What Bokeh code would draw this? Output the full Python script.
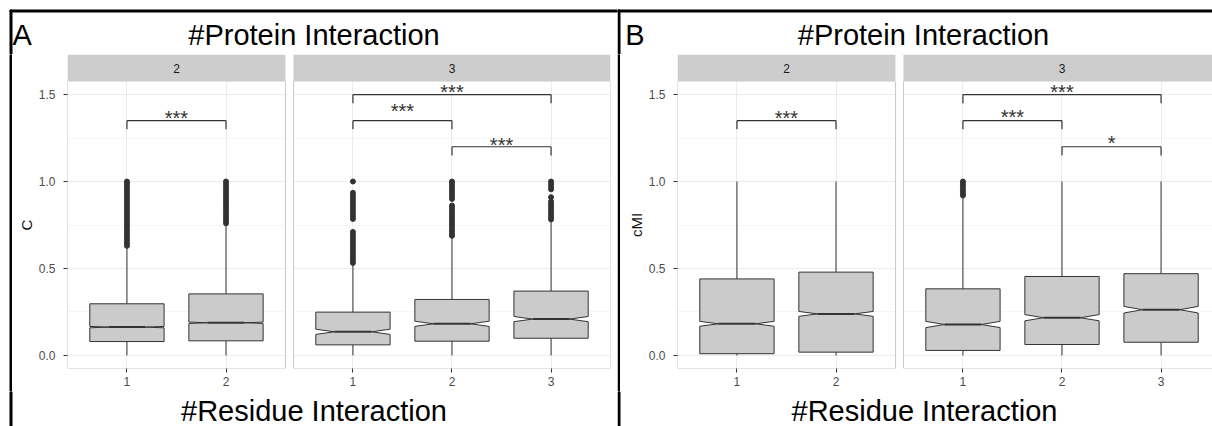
from bokeh.plotting import figure
from bokeh.models import Range1d, FixedTicker, NumeralTickFormatter
from bokeh.layouts import row, column
from bokeh.embed import file_html
from bokeh.resources import INLINE
from bokeh.core.properties import value

FONT = "Liberation Sans"

# ---------------- data ----------------
facet_labels = ["2", "3"]                       # #Protein Interaction
residue_ticks = [["1", "2"], ["1", "2", "3"]]    # #Residue Interaction
y_ticks = [0.0, 0.5, 1.0, 1.5]
y_minor = [0.25, 0.75, 1.25]

# Panel A : C
A2_q1 = [0.080, 0.084]
A2_med = [0.163, 0.188]
A2_q3 = [0.297, 0.354]
A2_lo = [0.0, 0.0]
A2_hi = [0.622, 0.757]
A2_notch = [0.004, 0.004]
A2_out = [
    [0.63, 0.645, 0.66, 0.675, 0.69, 0.705, 0.72, 0.735, 0.75, 0.765, 0.78, 0.795, 0.81,
     0.825, 0.84, 0.855, 0.87, 0.885, 0.90, 0.915, 0.93, 0.945, 0.96, 0.975, 0.99, 1.0],
    [0.76, 0.775, 0.79, 0.805, 0.82, 0.835, 0.85, 0.865, 0.88, 0.895, 0.91, 0.925, 0.94,
     0.955, 0.97, 0.985, 1.0],
]
A3_q1 = [0.061, 0.082, 0.099]
A3_med = [0.136, 0.182, 0.209]
A3_q3 = [0.249, 0.322, 0.370]
A3_lo = [0.0, 0.0, 0.0]
A3_hi = [0.527, 0.683, 0.777]
A3_notch = [0.015, 0.015, 0.015]
A3_out = [
    [1.0, 0.935, 0.92, 0.905, 0.89, 0.875, 0.86, 0.845, 0.83, 0.815, 0.80, 0.785,
     0.71, 0.695, 0.68, 0.665, 0.65, 0.635, 0.62, 0.605, 0.59, 0.575, 0.56, 0.545, 0.532],
    [1.0, 0.99, 0.975, 0.96, 0.945, 0.93, 0.915, 0.90,
     0.862, 0.85, 0.835, 0.82, 0.805, 0.79, 0.775, 0.76, 0.745, 0.73, 0.715, 0.70, 0.688],
    [1.0, 0.985, 0.97, 0.955, 0.91, 0.885, 0.87, 0.855, 0.84, 0.825, 0.81, 0.795, 0.782],
]

# Panel B : cMI
B2_q1 = [0.010, 0.019]
B2_med = [0.182, 0.239]
B2_q3 = [0.440, 0.479]
B2_lo = [0.0, 0.0]
B2_hi = [1.0, 1.0]
B2_notch = [0.014, 0.014]
B2_out = [[], []]
B3_q1 = [0.029, 0.063, 0.076]
B3_med = [0.178, 0.217, 0.263]
B3_q3 = [0.383, 0.454, 0.470]
B3_lo = [0.0, 0.0, 0.0]
B3_hi = [0.914, 1.0, 1.0]
B3_notch = [0.018, 0.018, 0.019]
B3_out = [[1.0, 0.99, 0.975, 0.96, 0.945, 0.93, 0.92], [], []]

# significance brackets (facet, from, to, bracket height, label, label height)
A_sig_facet = [0, 1, 1, 1]
A_sig_from = [1, 1, 1, 2]
A_sig_to = [2, 3, 2, 3]
A_sig_y = [1.35, 1.5, 1.35, 1.2]
A_sig_text = ["***", "***", "***", "***"]
A_sig_text_y = [1.367, 1.515, 1.403, 1.212]

B_sig_facet = [0, 1, 1, 1]
B_sig_from = [1, 1, 1, 2]
B_sig_to = [2, 3, 2, 3]
B_sig_y = [1.35, 1.5, 1.35, 1.2]
B_sig_text = ["***", "***", "***", "*"]
B_sig_text_y = [1.367, 1.516, 1.369, 1.219]

TITLE_TOP = "#Protein Interaction"
TITLE_BOTTOM = "#Residue Interaction"

# ---------------- layout constants (pixels) ----------------
HEAD_H, STRIP_H, MAIN_H, FOOT_H = 54, 27, 310, 35
MAIN_BOTTOM = 23
LEFT_A, RIGHT_A = 55, 7          # frame margins of panel A (inside its 605 px column)
LEFT_B = 57                       # frame margin of panel B (inside its 592 px column)
COL_A, COL_B = 605, 592
Y0, Y1 = -0.075, 1.575
GAP = 0.08125
BOX_W = 0.75
NOTCH_W = 0.5
BIG = 29

BOX_FILL = "#cbcbcb"
DARK = "#333333"


def plain(w, h):
    f = figure(width=w, height=h, x_range=Range1d(0, w), y_range=Range1d(h, 0),
               min_border=0, x_axis_location=None, y_axis_location=None,
               toolbar_location=None, output_backend="svg")
    f.grid.visible = False
    f.outline_line_color = None
    f.background_fill_color = "white"
    f.border_fill_color = "white"
    return f


def txt(f, x, baseline, s, align):
    # "middle" sits about 0.3 em above the alphabetic baseline
    f.text(x=[x], y=[baseline - 0.3 * BIG], text=[s], text_align=align, text_baseline="middle",
           text_font=value(FONT), text_font_size=f"{BIG}px", text_color="black")


# facet category positions on one continuous x scale
positions = []
start = 1.0
for labs in residue_ticks:
    positions.append([start + i for i in range(len(labs))])
    start = start + len(labs) - 1 + 0.6 + GAP + 0.6
extents = [(ps[0] - 0.6, ps[-1] + 0.6) for ps in positions]
X0, X1 = extents[0][0], extents[-1][1]
PPU_X = (COL_A - LEFT_A - RIGHT_A) / (X1 - X0)


def make_panel(width, fl, fr, x_end, ylabel, facets, sig):
    xr = Range1d(X0, x_end)
    # strip figure
    s = figure(width=width, height=STRIP_H, x_range=xr, y_range=Range1d(0, 1),
               min_border_left=fl, min_border_right=fr, min_border_top=0, min_border_bottom=0,
               x_axis_location=None, y_axis_location=None,
               toolbar_location=None, output_backend="svg")
    s.grid.visible = False
    s.outline_line_color = None
    s.quad(left=[e[0] for e in extents], right=[e[1] for e in extents],
           bottom=0, top=1, fill_color="#cdcdcd", line_color=None)
    s.text(x=[(e[0] + e[1]) / 2 for e in extents], y=[0.5] * len(extents),
           text=facet_labels, text_align="center", text_baseline="middle",
           text_font=value(FONT), text_font_size="12px", text_color="#1a1a1a")

    p = figure(width=width, height=MAIN_H, output_backend="svg", toolbar_location=None,
               x_range=xr, y_range=Range1d(Y0, Y1),
               min_border_left=fl, min_border_right=fr,
               min_border_top=0, min_border_bottom=MAIN_BOTTOM)
    p.outline_line_color = None
    p.background_fill_color = "white"
    p.border_fill_color = "white"

    xt = [x for ps in positions for x in ps]
    xl = [l for labs in residue_ticks for l in labs]
    p.xaxis.ticker = FixedTicker(ticks=xt)
    p.xaxis.major_label_overrides = {x: l for x, l in zip(xt, xl)}
    p.yaxis.ticker = FixedTicker(ticks=y_ticks, minor_ticks=y_minor)
    p.yaxis.formatter = NumeralTickFormatter(format="0.0")
    for ax in (p.xaxis, p.yaxis):
        ax.axis_line_color = None
        ax.major_tick_line_color = DARK
        ax.major_tick_in = 0
        ax.major_tick_out = 4
        ax.minor_tick_in = 0
        ax.minor_tick_out = 0
        ax.major_label_text_font = FONT
        ax.major_label_text_font_size = "12px"
        ax.major_label_text_color = "#4d4d4d"
    p.yaxis.major_label_standoff = 8
    p.xaxis.major_label_standoff = 4
    p.yaxis.axis_label = ylabel
    p.yaxis.axis_label_text_font = FONT
    p.yaxis.axis_label_text_font_style = "normal"
    p.yaxis.axis_label_text_font_size = "15px"
    p.yaxis.axis_label_text_color = "#111111"
    p.yaxis.axis_label_standoff = 1

    p.xgrid.grid_line_color = "#ebebeb"
    p.ygrid.grid_line_color = "#ebebeb"
    p.ygrid.minor_grid_line_color = "#f5f5f5"

    # gaps between facets
    p.quad(left=[extents[i][1] for i in range(len(extents) - 1)],
           right=[extents[i + 1][0] for i in range(len(extents) - 1)],
           bottom=Y0, top=Y1, fill_color="white", line_color=None)
    # panel borders
    p.quad(left=[e[0] for e in extents], right=[e[1] for e in extents],
           bottom=Y0, top=Y1, fill_color=None, line_color="#c8c8c8", line_width=1)

    # boxplots
    hw, iw = BOX_W / 2, BOX_W * NOTCH_W / 2
    for ps, (q1, med, q3, lo, hi, nt, outs) in zip(positions, facets):
        p.segment(x0=ps, y0=q3, x1=ps, y1=hi, line_color=DARK, line_width=1)
        p.segment(x0=ps, y0=q1, x1=ps, y1=lo, line_color=DARK, line_width=1)
        xs, ys = [], []
        for x, a, m, b, n in zip(ps, q1, med, q3, nt):
            xs.append([x - hw, x - hw, x - iw, x - hw, x - hw, x + hw, x + hw, x + iw, x + hw, x + hw])
            ys.append([a, m - n, m, m + n, b, b, m + n, m, m - n, a])
        p.patches(xs, ys, fill_color=BOX_FILL, line_color=DARK, line_width=1)
        p.segment(x0=[x - iw for x in ps], y0=med, x1=[x + iw for x in ps], y1=med,
                  line_color=DARK, line_width=2)
        ox = [x for x, o in zip(ps, outs) for _ in o]
        oy = [v for o in outs for v in o]
        if ox:
            p.scatter(ox, oy, size=5, color=DARK)

    # significance brackets
    fac, fr_, to_, yy, lab, ty = sig
    bx0 = [positions[f][a - 1] for f, a in zip(fac, fr_)]
    bx1 = [positions[f][b - 1] for f, b in zip(fac, to_)]
    p.segment(x0=bx0, y0=yy, x1=bx1, y1=yy, line_color=DARK, line_width=1.2)
    p.segment(x0=bx0, y0=yy, x1=bx0, y1=[v - 0.05 for v in yy], line_color=DARK, line_width=1.2)
    p.segment(x0=bx1, y0=yy, x1=bx1, y1=[v - 0.05 for v in yy], line_color=DARK, line_width=1.2)
    p.text(x=[(a + b) / 2 for a, b in zip(bx0, bx1)], y=ty, text=lab,
           text_align="center", text_baseline="middle",
           text_font=value(FONT), text_font_size="20px", text_color=DARK)
    return column(s, p)


colA = make_panel(COL_A, LEFT_A, RIGHT_A, X1, "C",
                  [(A2_q1, A2_med, A2_q3, A2_lo, A2_hi, A2_notch, A2_out),
                   (A3_q1, A3_med, A3_q3, A3_lo, A3_hi, A3_notch, A3_out)],
                  (A_sig_facet, A_sig_from, A_sig_to, A_sig_y, A_sig_text, A_sig_text_y))
colB = make_panel(COL_B, LEFT_B, 0, X0 + (COL_B - LEFT_B) / PPU_X, "cMI",
                  [(B2_q1, B2_med, B2_q3, B2_lo, B2_hi, B2_notch, B2_out),
                   (B3_q1, B3_med, B3_q3, B3_lo, B3_hi, B3_notch, B3_out)],
                  (B_sig_facet, B_sig_from, B_sig_to, B_sig_y, B_sig_text, B_sig_text_y))

# header: frame lines, panel letters, titles
WA = 12 + COL_A
WB = 3 + COL_B
hA = plain(WA, HEAD_H)
hA.quad(left=[9.5], right=[WA], top=[9.5], bottom=[11.5], color="black")
hA.quad(left=[9.5], right=[11.5], top=[9.5], bottom=[HEAD_H], color="black")
txt(hA, 12, 43, "A", "left")
txt(hA, 313.5, 43, TITLE_TOP, "center")

hB = plain(WB, HEAD_H)
hB.quad(left=[0], right=[WB], top=[9.5], bottom=[11.5], color="black")
hB.quad(left=[0.5], right=[2.5], top=[9.5], bottom=[HEAD_H], color="black")
txt(hB, 7.7, 43, "B", "left")
txt(hB, 306, 43, TITLE_TOP, "center")

# vertical frame lines beside the panels
lA = plain(12, STRIP_H + MAIN_H)
lA.quad(left=[9.5], right=[11.5], top=[0], bottom=[STRIP_H + MAIN_H], color="black")
lB = plain(3, STRIP_H + MAIN_H)
lB.quad(left=[0.5], right=[2.5], top=[0], bottom=[STRIP_H + MAIN_H], color="black")

# footer: x titles
fA = plain(WA, FOOT_H)
fA.quad(left=[9.5], right=[11.5], top=[0], bottom=[FOOT_H], color="black")
txt(fA, 313.5, 28.5, TITLE_BOTTOM, "center")
fB = plain(WB, FOOT_H)
fB.quad(left=[0.5], right=[2.5], top=[0], bottom=[FOOT_H], color="black")
txt(fB, 307, 28.5, TITLE_BOTTOM, "center")

layout = column(row(hA, hB), row(lA, colA, lB, colB), row(fA, fB))
open("out.html", "w").write(file_html(layout, INLINE))
